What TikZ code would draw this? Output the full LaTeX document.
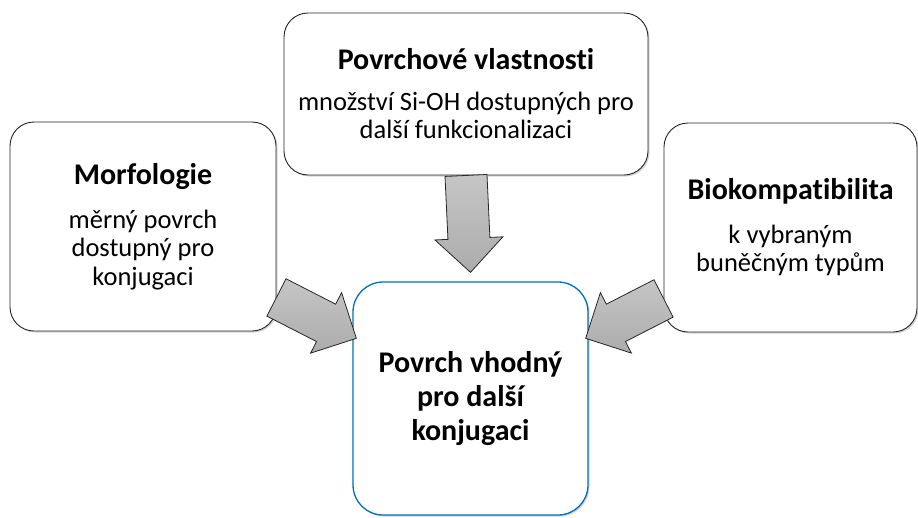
\documentclass[tikz,border=0pt]{standalone}
\usepackage{fontspec}
\setmainfont{Carlito}[Ligatures={NoCommon,NoContextual,NoRare}]
\usetikzlibrary{calc,shadows}

\tikzset{
  card/.style={draw=black!85, line width=0.9pt, fill=white, rounded corners=24pt,
    align=center, inner sep=0pt, font=\fontsize{26.5}{28.5}\selectfont,
    drop shadow={shadow xshift=1.5pt, shadow yshift=-1.5pt, opacity=0.35}},
  goalcard/.style={card, draw={rgb,255:red,0;green,112;blue,192}, line width=1.3pt,
    rounded corners=30pt, font=\fontsize{30}{34}\selectfont\bfseries},
  fatarrow/.style={draw=black!85, line width=0.8pt, line join=miter,
    top color=gray!45, bottom color=gray!65},
}
% block arrow from tail #1 to tip #2
\newcommand{\blockarrow}[2]{%
  \draw[fatarrow] ($(#1)!21pt!90:(#2)$) -- ($(#2)!34pt!(#1)!21pt!-90:(#1)$)
    -- ($(#2)!34pt!(#1)!34pt!-90:(#1)$) -- (#2)
    -- ($(#2)!34pt!(#1)!34pt!90:(#1)$) -- ($(#2)!34pt!(#1)!21pt!90:(#1)$)
    -- ($(#1)!21pt!-90:(#2)$) -- cycle;}

\newcommand{\cardtitle}[1]{{\fontsize{30}{32}\selectfont\bfseries #1}}

\begin{document}
\begin{tikzpicture}[x=1pt,y=-1pt]
  \useasboundingbox (0,0) rectangle (918,517);

  \node[card, minimum width=266pt, minimum height=209pt] (morf) at (143,226.5)
    {\cardtitle{Morfologie}\\[15pt] měrný povrch\\ dostupný pro\\ konjugaci};
  \node[card, minimum width=364pt, minimum height=162pt] (surf) at (466,94)
    {\cardtitle{Povrchové vlastnosti}\\[12pt] množství Si-OH dostupných pro\\ další funkcionalizaci};
  \node[card, minimum width=253pt, minimum height=209pt] (bio) at (790.5,227.5)
    {\cardtitle{Biokompatibilita}\\[15pt] k vybraným\\ buněčným typům};
  \node[goalcard, minimum width=235pt, minimum height=233pt] (goal) at (470.5,398.5)
    {Povrch vhodný\\ pro další\\ konjugaci};

  % arrows into the goal
  \coordinate (stail) at (surf.south);
  \coordinate (stip) at ($(goal.north)+(0,-9)$);
  \coordinate (mtail) at ($(morf.south east)+(0,-34)$);
  \coordinate (mtip) at ($(goal.north west)+(4,57)$);
  \coordinate (btail) at ($(bio.south west)+(0,-34)$);
  \coordinate (btip) at ($(goal.north east)+(-3,57)$);
  \blockarrow{stail}{stip}
  \blockarrow{mtail}{mtip}
  \blockarrow{btail}{btip}
\end{tikzpicture}
\end{document}
